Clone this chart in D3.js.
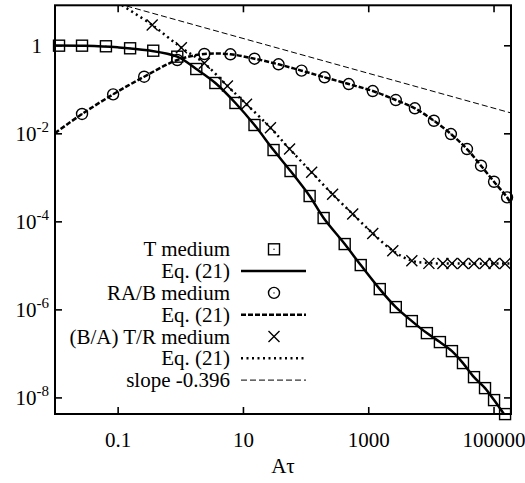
<!DOCTYPE html>
<html><head><meta charset="utf-8">
<script src="https://cdn.jsdelivr.net/npm/d3@7"></script>
<style>body{margin:0;background:#fff}</style>
</head><body>
<svg id="chart" width="525" height="483" font-family="'Liberation Serif'"></svg>
<script>
// ---------- data ----------
const xTicks = [0.1, 10, 1000, 100000];
const xTickLabels = ["0.1", "10", "1000", "100000"];
const yTicks = [1, 1e-2, 1e-4, 1e-6, 1e-8];
const yTickBase = ["1", "10", "10", "10", "10"];
const yTickExp = ["", "-2", "-4", "-6", "-8"];
const xLabel = "Aτ";
const legendLabels = ["T medium", "Eq. (21)", "RA/B medium", "Eq. (21)", "(B/A) T/R medium", "Eq. (21)", "slope -0.396"];

// T medium (squares)
const tMediumX = [0.0116,0.027,0.065,0.158,0.37,0.895,1.80,3.63,7.59,15.3,30.8,57.5,116,194,421,759,1528,2754,4966,8630,13930,21680,32510,48750,73110,101900,152800];
const tMediumY = [0.98,0.98,0.95,0.855,0.753,0.551,0.289,0.139,0.0489,0.01545,4.17e-3,1.39e-3,3.76e-4,1.19e-4,3.05e-5,1.016e-5,2.89e-6,1.127e-6,5.42e-7,2.89e-7,1.807e-7,1.127e-7,6.03e-8,2.89e-8,1.626e-8,8.69e-9,4.18e-9];
// T Eq. (21) (solid)
const tEqX = [0.01,0.03,0.1,0.3,0.895,1.8,3.63,7.59,15.3,30.8,57.5,116,194,421,759,1528,2754,4966,8630,13930,21680,32510,48750,73110,101900,160000];
const tEqY = [0.99,0.975,0.9,0.77,0.551,0.289,0.139,0.0489,0.01545,4.17e-3,1.39e-3,3.76e-4,1.19e-4,3.05e-5,1.016e-5,2.89e-6,1.127e-6,5.42e-7,2.89e-7,1.807e-7,1.127e-7,6.03e-8,2.89e-8,1.626e-8,8.69e-9,3.5e-9];

// RA/B medium (circles)
const raMediumX = [0.027,0.0847,0.265,0.895,2.42,6.31,15.3,37.0,86.3,201,488,1180,2754,5546,11170,20890,37670,63100,101900,164400];
const raMediumY = [0.0275,0.0769,0.193,0.463,0.634,0.624,0.495,0.37,0.265,0.1875,0.1318,0.0914,0.0571,0.037,0.0193,9.64e-3,4.40e-3,1.837e-3,7.94e-4,3.51e-4];
// RA/B Eq. (21) (thick dashed)
const raEqX = [0.01,0.027,0.0847,0.265,0.895,2.42,6.31,15.3,37.0,86.3,201,488,1180,2754,5546,11170,20890,37670,63100,101900,164400,190000];
const raEqY = [0.0101,0.0275,0.0769,0.193,0.463,0.634,0.624,0.495,0.37,0.265,0.1875,0.1318,0.0914,0.0571,0.037,0.0193,9.64e-3,4.40e-3,1.837e-3,7.94e-4,3.51e-4,2.5e-4];

// (B/A) T/R medium (crosses)
const baMediumX = [0.356,1.04,2.42,5.65,11.4,27.5,55.5,125,270,565,1180,2466,4966,9290,15560,21680,32510,48750,73110,101900,152800];
const baMediumY = [2.89,0.881,0.39,0.119,0.0456,0.0134,4.40e-3,1.30e-3,4.11e-4,1.466e-4,5.33e-5,2.15e-5,1.27e-5,1.11e-5,1.1e-5,1.1e-5,1.1e-5,1.1e-5,1.1e-5,1.1e-5,1.1e-5];
// (B/A) T/R Eq. (21) (dotted)
const baEqX = [0.1175,0.356,1.04,2.42,5.65,11.4,27.5,55.5,125,270,565,1180,2466,4966,9290,20000,190000];
const baEqY = [8.1,2.89,0.881,0.39,0.119,0.0456,0.0134,4.40e-3,1.30e-3,4.11e-4,1.466e-4,5.33e-5,2.15e-5,1.27e-5,1.13e-5,1.1e-5,1.1e-5];

// slope -0.396 reference line
const slopeX = [0.1, 190000];
const slopeY = [8.88, 0.029];

// ---------- layout ----------
const FONT = "'Liberation Serif'";
const L = 55, R = 511, T = 5.3, B = 414;
const svg = d3.select("#chart");
const x = d3.scaleLog().domain([0.01, 1.9e5]).range([L, R]);
const y = d3.scaleLog().domain([4.2e-9, 8.1]).range([B, T]);

svg.append("defs").append("clipPath").attr("id","plotclip")
  .append("rect").attr("x",L).attr("y",T).attr("width",R-L).attr("height",B-T);

const plot = svg.append("g").attr("clip-path","url(#plotclip)");
const zip = (xs, ys) => xs.map((v,i)=>[v, ys[i]]);
const line = d3.line().x(d=>x(d[0])).y(d=>y(d[1])).curve(d3.curveCatmullRom);

// lines
plot.append("path").datum(zip(slopeX, slopeY)).attr("d", d3.line().x(d=>x(d[0])).y(d=>y(d[1])))
  .attr("fill","none").attr("stroke","#000").attr("stroke-width",1).attr("stroke-dasharray","6,3");
plot.append("path").datum(zip(tEqX, tEqY)).attr("d", line)
  .attr("fill","none").attr("stroke","#000").attr("stroke-width",2.5);
plot.append("path").datum(zip(raEqX, raEqY)).attr("d", line)
  .attr("fill","none").attr("stroke","#000").attr("stroke-width",2.5).attr("stroke-dasharray","5,2");
plot.append("path").datum(zip(baEqX, baEqY)).attr("d", line)
  .attr("fill","none").attr("stroke","#000").attr("stroke-width",2.5).attr("stroke-dasharray","2,3.5");

// marker helpers
function square(g, cx, cy){
  g.append("rect").attr("x",cx-5.5).attr("y",cy-5.5).attr("width",11).attr("height",11)
    .attr("fill","none").attr("stroke","#000").attr("stroke-width",1.4);
  g.append("circle").attr("cx",cx).attr("cy",cy).attr("r",0.7).attr("fill","#000");
}
function circ(g, cx, cy){
  g.append("circle").attr("cx",cx).attr("cy",cy).attr("r",5.5)
    .attr("fill","none").attr("stroke","#000").attr("stroke-width",1.4);
  g.append("circle").attr("cx",cx).attr("cy",cy).attr("r",0.7).attr("fill","#000");
}
function cross(g, cx, cy){
  g.append("path").attr("d",`M${cx-5.5},${cy-5.5}L${cx+5.5},${cy+5.5}M${cx-5.5},${cy+5.5}L${cx+5.5},${cy-5.5}`)
    .attr("stroke","#000").attr("stroke-width",1.4).attr("fill","none");
}
const mk = svg.append("g");
zip(tMediumX, tMediumY).forEach(d=>square(mk, x(d[0]), y(d[1])));
zip(raMediumX, raMediumY).forEach(d=>circ(mk, x(d[0]), y(d[1])));
zip(baMediumX, baMediumY).forEach(d=>cross(mk, x(d[0]), y(d[1])));

// ---------- axes ----------
const fs = 21;
const ax = svg.append("g").attr("transform",`translate(0,${B})`)
  .call(d3.axisBottom(x).tickValues(xTicks).tickFormat((d,i)=>xTickLabels[i]).tickSizeInner(-7).tickSizeOuter(0).tickPadding(18));
ax.attr("font-family", FONT).attr("font-size", fs);
ax.select(".domain").remove();
ax.selectAll("line").attr("stroke","#000").attr("stroke-width",1.6);
ax.selectAll("text").attr("font-family", FONT).style("font-family","Liberation Serif").attr("font-size",fs).attr("fill","#000");

const axTop = svg.append("g").attr("transform",`translate(0,${T})`)
  .call(d3.axisTop(x).tickValues(xTicks).tickFormat("").tickSizeInner(-7).tickSizeOuter(0));
axTop.select(".domain").remove();
axTop.selectAll("line").attr("stroke","#000").attr("stroke-width",1.6);

const ay = svg.append("g").attr("transform",`translate(${L},0)`)
  .call(d3.axisLeft(y).tickValues(yTicks).tickFormat("").tickSizeInner(-7).tickSizeOuter(0));
ay.attr("font-family", FONT);
ay.select(".domain").remove();
ay.selectAll("line").attr("stroke","#000").attr("stroke-width",1.6);
ay.selectAll(".tick").each(function(d,i){
  const t = d3.select(this).append("text").attr("x", yTickExp[i] ? -6 : -13).attr("y", 7)
    .attr("text-anchor","end").attr("font-size",fs).attr("font-family",FONT)
    .style("font-family","Liberation Serif").attr("fill","#000");
  t.append("tspan").text(yTickBase[i]);
  if (yTickExp[i]) t.append("tspan").attr("dy",-9).attr("font-size",15).text(yTickExp[i]);
});

const ayR = svg.append("g").attr("transform",`translate(${R},0)`)
  .call(d3.axisRight(y).tickValues(yTicks).tickFormat("").tickSizeInner(-7).tickSizeOuter(0));
ayR.select(".domain").remove();
ayR.selectAll("line").attr("stroke","#000").attr("stroke-width",1.6);

svg.append("rect").attr("x",L).attr("y",T).attr("width",R-L).attr("height",B-T)
  .attr("fill","none").attr("stroke","#000").attr("stroke-width",2);

svg.append("text").attr("x",(L+R)/2).attr("y",473).attr("text-anchor","middle")
  .attr("font-size",fs).attr("font-family",FONT).style("font-family","Liberation Serif").text(xLabel);

// ---------- legend ----------
const lg = svg.append("g");
const rowY0 = 249.3, rowH = 21.8, textEnd = 230, sx0 = 241, sx1 = 306, smx = 274;
legendLabels.forEach((lab,i)=>{
  const yy = rowY0 + i*rowH;
  lg.append("text").attr("x",textEnd).attr("y",yy+7).attr("text-anchor","end")
    .attr("font-size",fs).attr("font-family",FONT).style("font-family","Liberation Serif").text(lab);
  if (i===0) square(lg, smx, yy);
  if (i===2) circ(lg, smx, yy);
  if (i===4) cross(lg, smx, yy);
  const styles = {1:["2.5",null],3:["2.5","5,2"],5:["2.5","2,3.5"],6:["1","6,3"]};
  if (styles[i]) {
    const l = lg.append("line").attr("x1",sx0).attr("x2",sx1).attr("y1",yy).attr("y2",yy)
      .attr("stroke","#000").attr("stroke-width",styles[i][0]);
    if (styles[i][1]) l.attr("stroke-dasharray",styles[i][1]);
  }
});
</script>
</body></html>
